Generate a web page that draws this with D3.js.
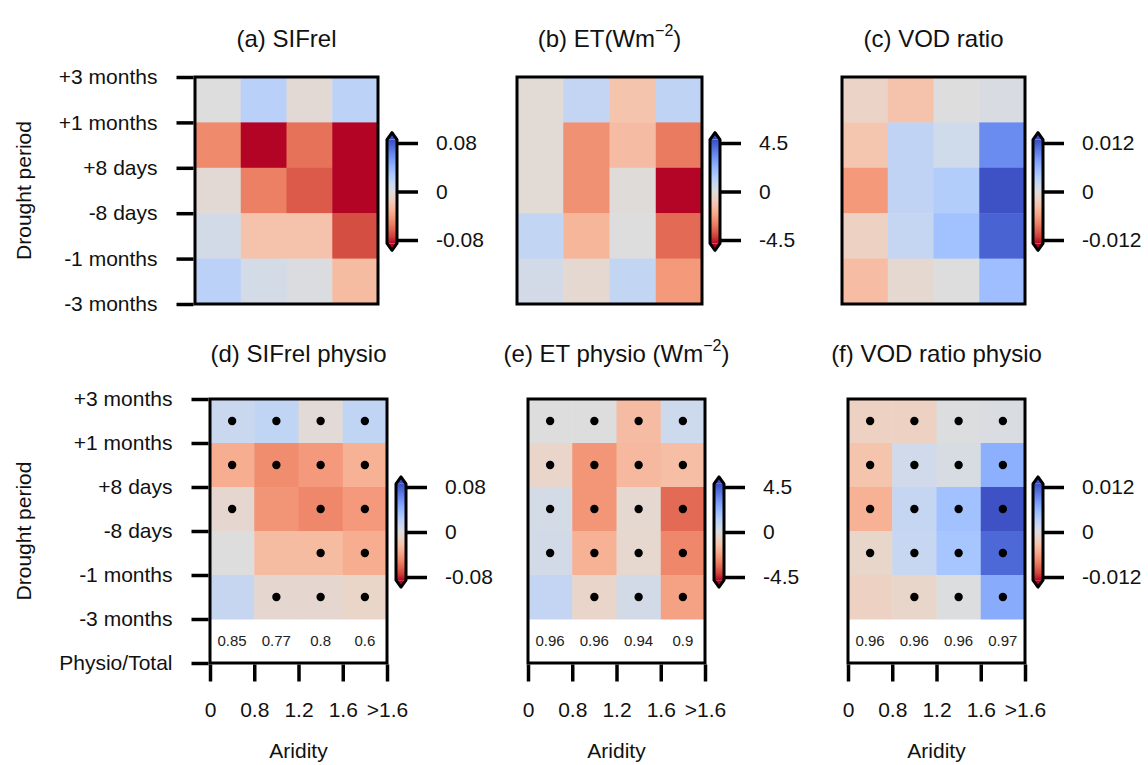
<!DOCTYPE html>
<html>
<head>
<meta charset="utf-8">
<script src="https://cdn.jsdelivr.net/npm/d3@7"></script>
<style>
body { margin: 0; background: #fff; }
</style>
</head>
<body>
<div id="chart"></div>
<script>
// drought period rows and aridity bins
var periods = ["+3 months", "+1 months", "+8 days", "-8 days", "-1 months", "-3 months"];
var periodsPhysio = periods.concat(["Physio/Total"]);
var aridity = ["0", "0.8", "1.2", "1.6", ">1.6"];

// values, rows top to bottom, columns by aridity bin
var sifrel = [
  [0.000, 0.021, -0.004, 0.019],
  [-0.049, -0.095, -0.058, -0.095],
  [-0.004, -0.053, -0.066, -0.095],
  [0.007, -0.022, -0.022, -0.070],
  [0.020, 0.006, 0.002, -0.026]
];
var et = [
  [-0.2, 0.85, -1.2, 1.0],
  [-0.2, -2.6, -1.45, -3.1],
  [-0.2, -2.6, -0.1, -4.8],
  [0.9, -1.65, 0.0, -3.4],
  [0.4, -0.3, 0.9, -2.4]
];
var vod = [
  [-0.0015, -0.0033, 0.0, 0.0005],
  [-0.003, 0.0026, 0.0013, 0.0090],
  [-0.0064, 0.0026, 0.0036, 0.0125],
  [-0.0018, 0.0022, 0.0049, 0.0115],
  [-0.0038, -0.0008, 0.0, 0.0052]
];
var sifrelPhysio = [
  [0.012, 0.017, -0.003, 0.017],
  [-0.034, -0.048, -0.043, -0.032],
  [-0.006, -0.045, -0.050, -0.043],
  [0.000, -0.026, -0.026, -0.034],
  [0.014, -0.006, -0.006, -0.009]
];
var etPhysio = [
  [0.0, 0.0, -1.45, 0.55],
  [-0.5, -2.5, -1.55, -1.4],
  [0.35, -2.5, -0.3, -3.4],
  [0.4, -1.8, -0.35, -2.8],
  [0.85, -0.5, 0.4, -2.2]
];
var vodPhysio = [
  [-0.0018, -0.0018, 0.0002, 0.0004],
  [-0.0032, 0.0012, 0.0006, 0.0064],
  [-0.0048, 0.0022, 0.0049, 0.0125],
  [-0.0012, 0.0020, 0.0045, 0.0112],
  [-0.0018, -0.0012, 0.0001, 0.0068]
];

// significance dots (1 = dot)
var sigSifrel = [[1,1,1,1],[1,1,1,1],[1,0,1,1],[0,0,1,1],[0,1,1,1]];
var sigEt     = [[1,1,1,1],[1,1,1,1],[1,1,1,1],[1,1,1,1],[0,1,1,1]];
var sigVod    = [[1,1,1,1],[1,1,1,1],[1,1,1,1],[1,1,1,1],[0,1,1,1]];

// physio / total ratios
var ratioSifrel = ["0.85", "0.77", "0.8", "0.6"];
var ratioEt = ["0.96", "0.96", "0.94", "0.9"];
var ratioVod = ["0.96", "0.96", "0.96", "0.97"];

// colorbar ticks
var ticksSif = [-0.08, 0, 0.08];
var ticksEt = [-4.5, 0, 4.5];
var ticksVod = [-0.012, 0, 0.012];

var titles = [
  [["(a) SIFrel"]],
  [["(b) ET(Wm"], ["\u22122", 1], [")"]],
  [["(c) VOD ratio"]],
  [["(d) SIFrel physio"]],
  [["(e) ET physio (Wm"], ["\u22122", 1], [")"]],
  [["(f) VOD ratio physio"]]
];

var panels = [
  {values: sifrel, ticks: ticksSif},
  {values: et, ticks: ticksEt},
  {values: vod, ticks: ticksVod},
  {values: sifrelPhysio, ticks: ticksSif, sig: sigSifrel, ratio: ratioSifrel},
  {values: etPhysio, ticks: ticksEt, sig: sigEt, ratio: ratioEt},
  {values: vodPhysio, ticks: ticksVod, sig: sigVod, ratio: ratioVod}
];

// where each panel sits on the page
var layout = [
  {x0: 195, x1: 378, y0: 77, y1: 304, cb: 387, tTop: 143, tBot: 240, ty: 47, yaxis: true},
  {x0: 517, x1: 702, y0: 77, y1: 304, cb: 710, tTop: 143, tBot: 240, ty: 47},
  {x0: 842, x1: 1025, y0: 77, y1: 304, cb: 1033, tTop: 143, tBot: 240, ty: 47},
  {x0: 210, x1: 387, y0: 399, y1: 663, cb: 396, tTop: 487, tBot: 577, ty: 362, yaxis: true},
  {x0: 528, x1: 705, y0: 399, y1: 663, cb: 714, tTop: 487, tBot: 577, ty: 362},
  {x0: 848, x1: 1025, y0: 399, y1: 663, cb: 1033, tTop: 487, tBot: 577, ty: 362}
];

var font = "'Liberation Sans', Arial, Helvetica, sans-serif";
var labelSize = 21;

// matplotlib coolwarm samples
var cwRgb = [
  [59,76,192],[77,104,215],[98,130,234],[119,154,247],[141,176,254],[163,194,255],
  [184,208,249],[204,217,238],[221,221,221],[236,211,197],[245,196,173],[247,177,148],
  [244,154,123],[236,127,99],[222,96,77],[203,62,56],[180,4,38]
];
var coolwarm = d3.scaleLinear()
  .domain(cwRgb.map(function(c, i) { return i / (cwRgb.length - 1); }))
  .range(cwRgb.map(function(c) { return d3.rgb(c[0], c[1], c[2]); }))
  .interpolate(d3.interpolateRgb)
  .clamp(true);

var svg = d3.select("#chart")
  .append("svg")
  .attr("width", 1148)
  .attr("height", 765)
  .style("background", "#fff");

var defs = svg.append("defs");

function styleAxis(g, size) {
  g.attr("font-family", font);
  g.select(".domain").remove();
  g.selectAll(".tick line").attr("stroke", "#000").attr("stroke-width", 3.5);
  g.selectAll(".tick text").attr("font-size", size).attr("fill", "#111");
}

panels.forEach(function(p, k) {
  var L = layout[k];
  var physio = !!p.ratio;
  var nBands = physio ? 6 : 5;
  var vmax = p.ticks[2] * 1.07;

  var x = d3.scaleLinear().domain([0, 4]).range([L.x0, L.x1]);
  var y = d3.scaleLinear().domain([0, nBands]).range([L.y0, L.y1]);
  var color = function(v) { return coolwarm(0.5 - v / (2 * vmax)); };

  var g = svg.append("g");

  var cells = [];
  p.values.forEach(function(row, i) {
    row.forEach(function(v, j) { cells.push({i: i, j: j, v: v}); });
  });

  g.selectAll("rect.cell")
    .data(cells)
    .enter().append("rect")
    .attr("class", "cell")
    .attr("x", function(d) { return x(d.j); })
    .attr("y", function(d) { return y(d.i); })
    .attr("width", function(d) { return x(d.j + 1) - x(d.j) + 0.5; })
    .attr("height", function(d) { return y(d.i + 1) - y(d.i) + 0.5; })
    .attr("fill", function(d) { return color(d.v); });

  if (p.sig) {
    var dots = cells.filter(function(d) { return p.sig[d.i][d.j]; });
    g.selectAll("circle")
      .data(dots)
      .enter().append("circle")
      .attr("cx", function(d) { return x(d.j + 0.5); })
      .attr("cy", function(d) { return y(d.i + 0.5); })
      .attr("r", 4.2)
      .attr("fill", "#000");
  }

  if (physio) {
    g.selectAll("text.ratio")
      .data(p.ratio)
      .enter().append("text")
      .attr("class", "ratio")
      .attr("x", function(d, j) { return x(j + 0.5); })
      .attr("y", y(5.5))
      .attr("dy", "0.35em")
      .attr("text-anchor", "middle")
      .attr("font-family", font)
      .attr("font-size", 15)
      .attr("fill", "#222")
      .text(function(d) { return d; });
  }

  // frame
  g.append("rect")
    .attr("x", L.x0).attr("y", L.y0)
    .attr("width", L.x1 - L.x0).attr("height", L.y1 - L.y0)
    .attr("fill", "none")
    .attr("stroke", "#000")
    .attr("stroke-width", 3);

  if (L.yaxis) {
    var labels = physio ? periodsPhysio : periods;
    var ya = g.append("g")
      .attr("transform", "translate(" + (L.x0 - 1.5) + ",0)")
      .call(d3.axisLeft(y)
        .tickValues(d3.range(nBands + 1))
        .tickFormat(function(i) { return labels[i]; })
        .tickSize(17)
        .tickPadding(19));
    styleAxis(ya, labelSize);

    g.append("text")
      .attr("transform", "translate(31," + ((L.y0 + L.y1) / 2) + ") rotate(-90)")
      .attr("text-anchor", "middle")
      .attr("font-family", font)
      .attr("font-size", labelSize)
      .attr("fill", "#111")
      .text("Drought period");
  }

  if (physio) {
    var xa = g.append("g")
      .attr("transform", "translate(0," + (L.y1 + 1.5) + ")")
      .call(d3.axisBottom(x)
        .tickValues(d3.range(5))
        .tickFormat(function(i) { return aridity[i]; })
        .tickSize(17)
        .tickPadding(21));
    styleAxis(xa, labelSize);

    g.append("text")
      .attr("x", (L.x0 + L.x1) / 2)
      .attr("y", 758)
      .attr("text-anchor", "middle")
      .attr("font-family", font)
      .attr("font-size", labelSize)
      .attr("fill", "#111")
      .text("Aridity");
  }

  // title
  var t = g.append("text")
    .attr("x", (L.x0 + L.x1) / 2)
    .attr("y", L.ty)
    .attr("text-anchor", "middle")
    .attr("font-family", font)
    .attr("font-size", 24)
    .attr("fill", "#111");
  titles[k].forEach(function(part, n) {
    var s = t.append("tspan").text(part[0]);
    if (part[1]) s.attr("font-size", 16).attr("dy", -11);
    else if (n > 0) s.attr("dy", 11);
  });

  // colorbar with extensions at both ends
  var cb = d3.scaleLinear().domain([p.ticks[0], p.ticks[2]]).range([L.tBot, L.tTop]);
  var top = cb(vmax), bot = cb(-vmax);
  var c0 = L.cb, c1 = L.cb + 10, cm = (c0 + c1) / 2, tri = 7;

  var grad = defs.append("linearGradient")
    .attr("id", "cbar" + k)
    .attr("x1", 0).attr("y1", 0).attr("x2", 0).attr("y2", 1);
  d3.range(0, 1.0001, 1 / 16).forEach(function(o) {
    grad.append("stop").attr("offset", o).attr("stop-color", coolwarm(o));
  });

  g.append("rect")
    .attr("x", c0).attr("y", top)
    .attr("width", c1 - c0).attr("height", bot - top)
    .attr("fill", "url(#cbar" + k + ")");
  g.append("path")
    .attr("d", "M" + c0 + "," + top + "L" + cm + "," + (top - tri) + "L" + c1 + "," + top + "Z")
    .attr("fill", coolwarm(0));
  g.append("path")
    .attr("d", "M" + c0 + "," + bot + "L" + cm + "," + (bot + tri) + "L" + c1 + "," + bot + "Z")
    .attr("fill", coolwarm(1));
  g.append("path")
    .attr("d", "M" + c0 + "," + top + "L" + cm + "," + (top - tri) + "L" + c1 + "," + top +
               "L" + c1 + "," + bot + "L" + cm + "," + (bot + tri) + "L" + c0 + "," + bot + "Z")
    .attr("fill", "none")
    .attr("stroke", "#000")
    .attr("stroke-width", 3)
    .attr("stroke-linejoin", "round");

  var ca = g.append("g")
    .attr("transform", "translate(" + c1 + ",0)")
    .call(d3.axisRight(cb)
      .tickValues(p.ticks)
      .tickFormat(function(d) { return d === 0 ? "0" : String(d); })
      .tickSize(21)
      .tickPadding(18));
  styleAxis(ca, labelSize);
});
</script>
</body>
</html>
